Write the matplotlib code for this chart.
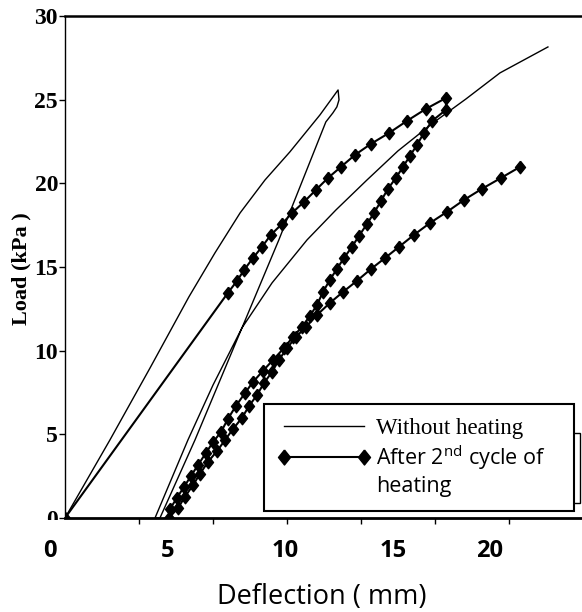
import numpy as np
import matplotlib
matplotlib.use("Agg")
import matplotlib.pyplot as plt
from matplotlib.lines import Line2D
from matplotlib.patches import Rectangle
from matplotlib.transforms import blended_transform_factory, Bbox, TransformedBbox

# ---- data (deflection in mm, load in kPa) ----
# without heating: loading, unloading, reloading
nh_load_x = [0.64, 2.55, 4.26, 5.91, 7.02, 8.09, 9.15, 10.21, 11.49, 12.26]
nh_load_y = [0.00, 4.66, 8.97, 13.21, 15.84, 18.23, 20.20, 21.88, 24.09, 25.58]
nh_unload_x = [12.30, 12.21, 12.04, 11.74, 9.74, 8.17, 6.17, 4.68]
nh_unload_y = [24.99, 24.57, 24.21, 23.67, 16.62, 11.36, 4.66, 0.00]
nh_reload_x = [4.47, 5.87, 6.94, 8.17, 9.45, 10.94, 12.17, 13.49, 14.81, 16.30, 17.70, 19.15, 21.19]
nh_reload_y = [0.00, 4.66, 7.95, 11.36, 14.05, 16.62, 18.41, 20.20, 21.94, 23.61, 25.04, 26.60, 28.15]

# after 2nd cycle of heating: loading, unloading, reloading
h2_load_x = [0.64, 7.57, 7.96, 8.26, 8.64, 9.02, 9.40, 9.87, 10.30, 10.81, 11.32, 11.83,
             12.38, 12.98, 13.66, 14.43, 15.19, 16.00, 16.85]
h2_load_y = [0.00, 13.45, 14.17, 14.82, 15.54, 16.20, 16.92, 17.57, 18.23, 18.89, 19.61, 20.32,
             20.98, 21.70, 22.36, 23.01, 23.73, 24.45, 25.10]
h2_unload_x = [16.85, 16.26, 15.91, 15.62, 15.32, 15.02, 14.72, 14.38, 14.09, 13.79, 13.49, 13.15,
               12.85, 12.51, 12.21, 11.91, 11.62, 11.36, 11.06, 10.72, 10.34, 9.96, 9.49, 9.06,
               8.64, 8.30, 7.91, 7.57, 7.28, 6.94, 6.64, 6.30, 6.00, 5.70, 5.40, 5.11]
h2_unload_y = [24.39, 23.73, 23.01, 22.30, 21.64, 20.98, 20.32, 19.67, 18.95, 18.23, 17.57, 16.86,
               16.20, 15.54, 14.88, 14.23, 13.51, 12.73, 12.07, 11.42, 10.82, 10.16, 9.44, 8.79,
               8.13, 7.47, 6.69, 5.92, 5.14, 4.54, 3.89, 3.17, 2.51, 1.85, 1.20, 0.54]
h2_reload_x = [5.06, 5.45, 5.74, 6.09, 6.38, 6.72, 7.11, 7.45, 7.79, 8.17, 8.47, 8.81, 9.11, 9.45,
               9.74, 10.09, 10.47, 10.89, 11.36, 11.91, 12.47, 13.06, 13.66, 14.26, 14.85, 15.49,
               16.17, 16.89, 17.62, 18.38, 19.19, 20.00]
h2_reload_y = [0.00, 0.60, 1.26, 1.97, 2.63, 3.35, 4.00, 4.66, 5.32, 5.98, 6.69, 7.35, 8.07, 8.73,
               9.44, 10.16, 10.82, 11.42, 12.13, 12.85, 13.51, 14.17, 14.88, 15.54, 16.20, 16.92,
               17.63, 18.29, 19.01, 19.67, 20.32, 20.98]

x_labels = ["0", "5", "10", "15", "20"]
x_label_at = [0.0, 5.0, 10.0, 14.6, 18.7]   # where the (pasted) labels sit
y_ticks = [0, 5, 10, 15, 20, 25, 30]

nh_x = nh_load_x + nh_unload_x + nh_reload_x
nh_y = nh_load_y + nh_unload_y + nh_reload_y
h2_x = h2_load_x + h2_unload_x + h2_reload_x
h2_y = h2_load_y + h2_unload_y + h2_reload_y

serif = "Liberation Serif"
sans = "Open Sans"
diamond = [(0, 1), (0.8, 0), (0, -1), (-0.8, 0), (0, 1)]

fig = plt.figure(figsize=(5.82, 6.12), dpi=100)
ax = fig.add_axes([65 / 582, 94 / 612, 517 / 582, 502 / 612])

ax.plot(nh_x, nh_y, color="black", lw=1.0, label="Without heating")
ax.plot(h2_x, h2_y, color="black", lw=1.5, marker=diamond, ms=9,
        label=r"After 2$^{\mathregular{nd}}$ cycle of")

ax.set_xlim(0.64, 22.64)
ax.set_ylim(0, 30)

# spines
ax.spines["right"].set_visible(False)
ax.spines["top"].set_linewidth(1.8)
ax.spines["bottom"].set_linewidth(2.0)
ax.spines["left"].set_linewidth(1.0)

# inner x ticks without labels
ax.set_xticks(np.arange(3.79, 22, 3.15))
ax.tick_params(axis="x", length=4, width=1, labelbottom=False, direction="out")
ax.set_yticks(y_ticks)
ax.tick_params(axis="y", length=4, width=1, pad=1, direction="out")
for lbl in ax.get_yticklabels():
    lbl.set_fontfamily(serif)
    lbl.set_fontweight("bold")
    lbl.set_fontsize(17)
# bottom "0" is half hidden in the source
zero_lbl = ax.get_yticklabels()[0]
zero_lbl.set_clip_on(True)
zero_lbl.set_clip_box(TransformedBbox(Bbox([[0, 1 - 520 / 612], [1, 1]]), fig.transFigure))

# pasted x tick labels and axis titles
tr = blended_transform_factory(ax.transData, fig.transFigure)
for pos, txt in zip(x_label_at, x_labels):
    ax.text(pos, 1 - 551 / 612, txt, transform=tr, ha="center", va="center",
            fontfamily=sans, fontweight="bold", fontsize=17, clip_on=False)
fig.text(322 / 582, 1 - 597 / 612, "Deflection ( mm)", ha="center", va="center",
         fontfamily=sans, fontsize=19.5)
fig.text(21 / 582, 1 - 269 / 612, "Load (kPa )", rotation=90, ha="center", va="center",
         fontfamily=serif, fontweight="bold", fontsize=16)

# legend
handles, labels = ax.get_legend_handles_labels()
handles.append(Line2D([], [], linestyle="none"))
labels.append("heating")
leg = ax.legend(handles, labels, loc="lower left", bbox_to_anchor=(0.385, 0.014, 0.600, 0.217),
                mode="expand", borderaxespad=0, numpoints=2, markerscale=1.2,
                handlelength=4.3, handletextpad=0.25, borderpad=0.65, labelspacing=0.2,
                fancybox=False, framealpha=1, edgecolor="black",
                prop={"family": sans, "size": 15.5})
leg.get_frame().set_linewidth(1.5)
leg.get_texts()[0].set_fontfamily(serif)
leg.get_texts()[0].set_fontsize(16.5)
leg.set_zorder(5)
# ghost frame behind the legend
ax.add_patch(Rectangle((0.5, 0.03), 0.496, 0.14, transform=ax.transAxes, fill=False,
                       edgecolor="black", lw=1.0, zorder=4, clip_on=False))

fig.savefig("out.png", dpi=100)
